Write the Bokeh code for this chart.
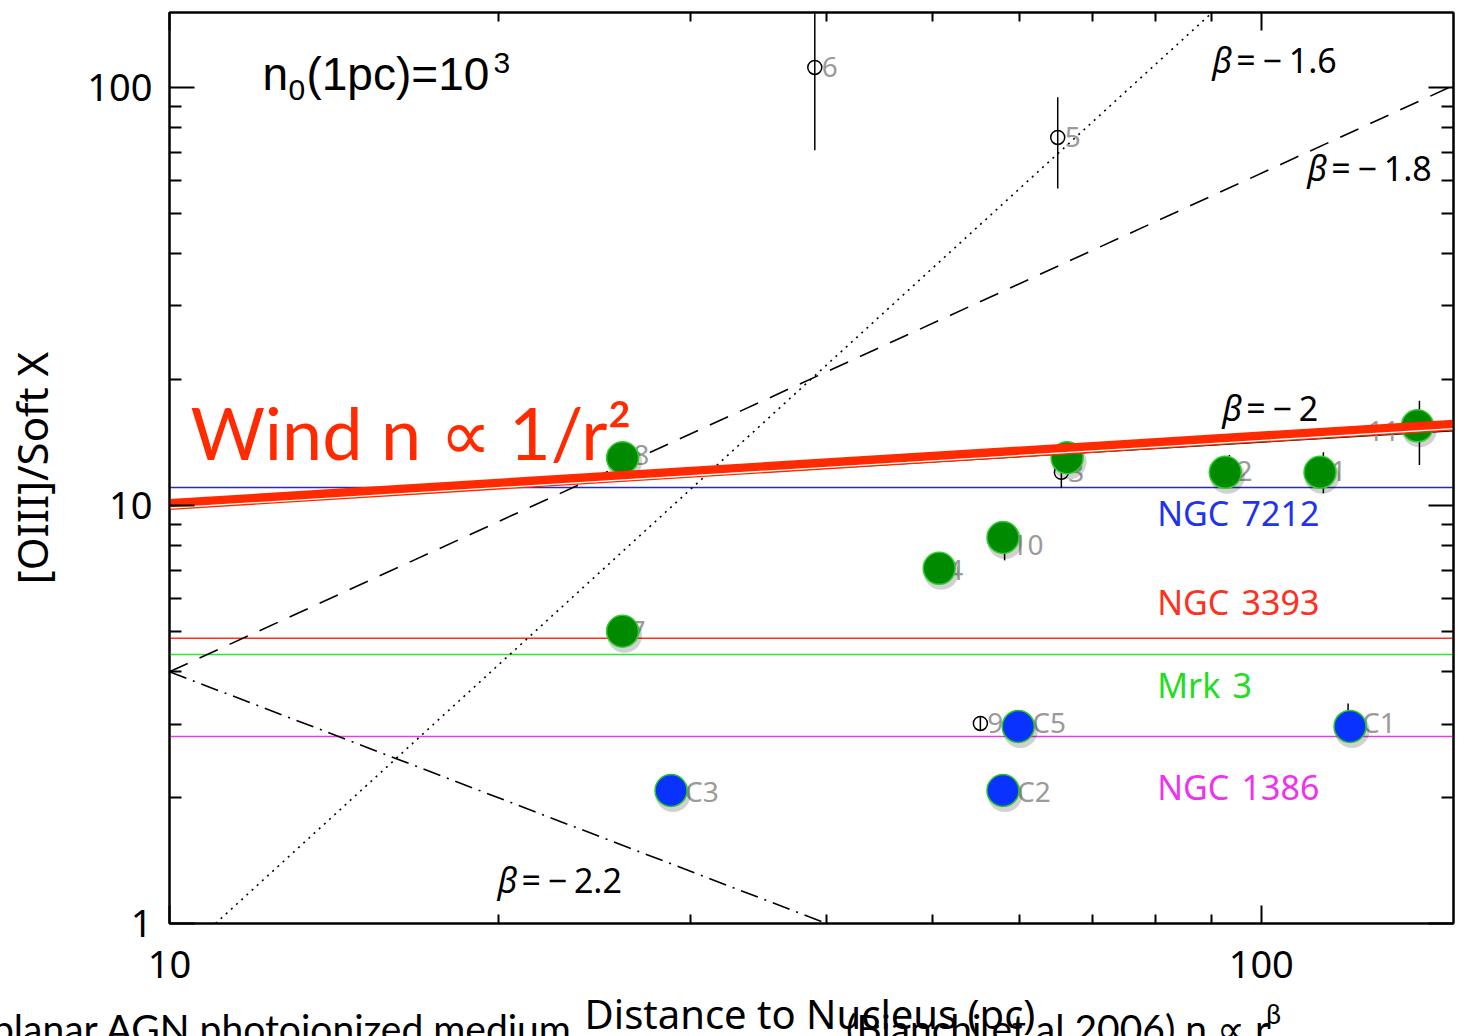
import math
from bokeh.plotting import figure
from bokeh.layouts import column
from bokeh.models import (LogAxis, FixedTicker, Label, ColumnDataSource, Range1d,
                          BasicTickFormatter, Div)
from bokeh.embed import file_html
from bokeh.resources import INLINE
from bokeh.core.properties import value

# ---------------- data ----------------
x_major = [10, 100]
x_minor = [20, 30, 40, 50, 60, 70, 80, 90]
y_major = [1, 10, 100]
y_minor = [2, 3, 4, 5, 6, 7, 8, 9, 20, 30, 40, 50, 60, 70, 80, 90]

point_labels = ["6", "5", "8", "3", "2", "1", "11", "10", "4", "7", "9"]
point_dist = [39.0, 65.1, 26.2, 65.6, 93.5, 114.0, 139.6, 58.2, 50.8, 26.0, 55.3]
point_ratio = [111.6, 75.9, 13.2, 12.0, 12.1, 12.1, 15.1, 8.02, 6.99, 5.02, 3.01]
point_err_lo = [70.7, 57.3, 12.6, 11.0, 11.1, 10.7, 12.5, 7.39, 6.7, 4.85, 2.90]
point_err_hi = [200.0, 94.7, 13.8, 12.8, 13.2, 13.4, 17.8, 8.72, 7.3, 5.2, 3.13]

cloud_labels = ["C5", "C1", "C3", "C2"]
cloud_dist = [59.9, 120.1, 28.8, 58.0]
cloud_ratio = [3.03, 3.03, 2.08, 2.08]
cloud_err_lo = [2.93, 2.93, 2.0, 1.96]
cloud_err_hi = [3.13, 3.36, 2.16, 2.16]

green_dist = [26.0, 66.4, 92.7, 113.2, 139.0, 58.0, 50.7, 26.0]
green_ratio = [13.0, 13.0, 12.0, 12.0, 15.5, 8.38, 7.07, 5.00]
blue_dist = [59.9, 120.6, 28.8, 58.0]
blue_ratio = [2.96, 2.96, 2.08, 2.08]

galaxy_names = ["NGC 7212", "NGC 3393", "Mrk 3", "NGC 1386"]
galaxy_ratio = [11.04, 4.81, 4.40, 2.80]

beta_values = ["−1.6", "−1.8", "−2", "−2.2"]
beta_dist = [[11.02, 90.0], [10.0, 150.0], [10.0, 150.0], [10.0, 40.0]]
beta_ratio = [[1.0, 150.3], [4.0, 101.0], [9.9, 15.1], [4.0, 1.0]]

wind_dist = [10.0, 150.0]
wind_ratio = [10.05, 15.56]

# ---------------- styles ----------------
galaxy_line_colors = ["#2a2ab8", "#ff3020", "#2ee82e", "#e040e0"]
galaxy_text_colors = ["#2233ee", "#ff3020", "#22dd22", "#ee33ee"]
beta_dashes = ["2 5", "20 13", "solid", "18 7 2 7"]
RED = "#ff2a00"
GRAY = "#9a9a9a"
TICKFONT = "Noto Sans"
SANS = "Liberation Sans"
HS = "\u200a"

# frame geometry: x=10 at px 169, 1092 px/decade ; y=1 at px 923, 418 px/decade
def X(px):
    return 10 ** (1 + (px - 169) / 1092.0)

def Y(py):
    return 10 ** ((923 - py) / 418.0)

p = figure(width=1482, height=996, x_axis_type="log", y_axis_type="log",
           x_range=Range1d(10, 150), y_range=Range1d(1, 151),
           output_backend="svg", toolbar_location=None,
           min_border_left=169, min_border_right=29, min_border_top=12,
           min_border_bottom=73)
p.grid.visible = False
p.outline_line_color = "black"
p.outline_line_width = 2
p.background_fill_color = "white"
p.border_fill_color = "white"

def style_axis(ax, major_in, minor_in, show_labels):
    ax.major_tick_in = major_in
    ax.minor_tick_in = minor_in
    ax.major_tick_out = 0
    ax.minor_tick_out = 0
    ax.major_tick_line_width = 2
    ax.minor_tick_line_width = 2
    ax.major_tick_line_color = "black"
    ax.minor_tick_line_color = "black"
    ax.axis_line_width = 2
    ax.axis_line_color = "black"
    if show_labels:
        ax.major_label_text_font = TICKFONT
        ax.major_label_text_font_size = "38px"
        ax.major_label_text_color = "black"
    else:
        ax.major_label_text_font_size = "2px"
        ax.major_label_text_alpha = 0
        ax.major_label_standoff = 0

xb = p.xaxis[0]
xb.ticker = FixedTicker(ticks=x_major, minor_ticks=x_minor)
xb.formatter = BasicTickFormatter()
style_axis(xb, 18, 9, True)
xb.major_label_standoff = 27

yl = p.yaxis[0]
yl.ticker = FixedTicker(ticks=y_major, minor_ticks=y_minor)
yl.formatter = BasicTickFormatter()
style_axis(yl, 25, 12, True)
yl.major_label_standoff = 17
yl.axis_label = "[OIII]/Soft X"
yl.axis_label_text_font = TICKFONT
yl.axis_label_text_font_size = "42px"
yl.axis_label_text_font_style = "normal"
yl.axis_label_text_color = "black"
yl.axis_label_standoff = 24

xt = LogAxis(ticker=FixedTicker(ticks=x_major, minor_ticks=x_minor),
             formatter=BasicTickFormatter())
style_axis(xt, 18, 9, False)
p.add_layout(xt, "above")
yr = LogAxis(ticker=FixedTicker(ticks=y_major, minor_ticks=y_minor),
             formatter=BasicTickFormatter())
style_axis(yr, 25, 12, False)
p.add_layout(yr, "right")

# galaxy reference levels
for r, c in zip(galaxy_ratio, galaxy_line_colors):
    p.line([10, 150], [r, r], line_color=c, line_width=1.5)

# beta model lines
for xs, ys, d in zip(beta_dist, beta_ratio, beta_dashes):
    p.line(xs, ys, line_color="black", line_width=1.6, line_dash=d)

# error bars
p.segment(x0=point_dist, y0=point_err_lo, x1=point_dist, y1=point_err_hi,
          line_color="black", line_width=1.5)
p.segment(x0=cloud_dist, y0=cloud_err_lo, x1=cloud_dist, y1=cloud_err_hi,
          line_color="black", line_width=1.5)

# open circles
p.scatter(point_dist, point_ratio, marker="circle", size=14, fill_color=None,
          line_color="black", line_width=1.5)

# point labels
all_lab = point_labels + cloud_labels
all_x = point_dist + cloud_dist
all_y = point_ratio + cloud_ratio
offs, aligns = [], []
for lab in all_lab:
    if lab == "11":
        offs.append(-20); aligns.append("right")
    elif lab.startswith("C"):
        offs.append(14); aligns.append("left")
    else:
        offs.append(7); aligns.append("left")
lab_src = ColumnDataSource(dict(x=all_x, y=all_y, t=all_lab, xo=offs, al=aligns))
p.text("x", "y", text="t", x_offset="xo", text_align="al", source=lab_src,
       text_baseline="middle", text_font=value(TICKFONT), text_font_size="28px",
       text_color=GRAY)

# highlighted markers (overlay) with soft shadow
sh_dx = 10 ** (2 / 1092.0)
sh_dy = 10 ** (-4 / 418.0)
p.scatter([v * sh_dx for v in green_dist + blue_dist],
          [v * sh_dy for v in green_ratio + blue_ratio],
          marker="circle", size=35, fill_color="black", fill_alpha=0.18, line_color=None)
p.scatter(green_dist, green_ratio, marker="circle", size=32, fill_color="#008a00",
          line_color="#33cc33", line_width=1.5)
p.scatter(blue_dist, blue_ratio, marker="circle", size=32, fill_color="#0a32ff",
          line_color="#22c822", line_width=1.5)

# wind line overlay
p.line(wind_dist, wind_ratio, line_color=RED, line_width=11)
p.line(wind_dist, [v * 10 ** (-3.5 / 418.0) for v in wind_ratio], line_color="white",
       line_width=1.3)

# galaxy names
gal_pos = [513, 602, 685, 787]
for name, c, py in zip(galaxy_names, galaxy_text_colors, gal_pos):
    p.add_layout(Label(x=X(1157), y=Y(py), text=name.replace(" ", " " + HS), text_color=c,
                       text_font=TICKFONT, text_font_size="34px", text_baseline="middle"))

# beta labels
beta_pos = [(1212, 60), (1307, 168), (1222, 408), (497, 880)]
for val, (px, py) in zip(beta_values, beta_pos):
    p.add_layout(Label(x=X(px), y=Y(py), text="β", text_font=TICKFONT,
                       text_font_style="italic", text_font_size="34px",
                       text_baseline="middle", text_color="black"))
    p.add_layout(Label(x=X(px), y=Y(py), x_offset=24,
                       text="=" + HS + HS + val[0] + HS + HS + val[1:], text_font=TICKFONT,
                       text_font_size="34px", text_baseline="middle", text_color="black"))

# n0(1pc)=10^3
p.add_layout(Label(x=X(262), y=Y(74), text="n", text_font=SANS, text_font_size="46px",
                   text_baseline="middle", text_color="black"))
p.add_layout(Label(x=X(288), y=Y(90), text="0", text_font=SANS, text_font_size="30px",
                   text_baseline="middle", text_color="black"))
p.add_layout(Label(x=X(306), y=Y(74), text="(1pc)=10", text_font=SANS, text_font_size="46px",
                   text_baseline="middle", text_color="black"))
p.add_layout(Label(x=X(493), y=Y(63), text="3", text_font=SANS, text_font_size="30px",
                   text_baseline="middle", text_color="black"))

# wind annotation
p.add_layout(Label(x=X(190), y=Y(432), text="Wind n ∝ 1/r²", text_font="Lato",
                   text_font_size="72px", text_color=RED, text_baseline="middle"))

# ---------- strip below the plot: x-axis title and the slide caption cut at the edge ----------
span = "position:absolute;white-space:nowrap;line-height:1;color:black;"
html = (
    '<div style="position:relative;width:1482px;height:40px;overflow:hidden;background:white;">'
    f'<span style="{span}left:-8px;top:13px;font-family:Lato;font-size:39px;">'
    'planar AGN photoionized medium</span>'
    f'<span style="{span}left:846px;top:13px;font-family:Lato;font-size:39px;">'
    '(Bianchi et al 2006) n ∝ r</span>'
    f'<span style="{span}left:1266px;top:4px;font-family:Lato;font-size:27px;">β</span>'
    f'<span style="{span}left:310px;width:1000px;text-align:center;top:-2px;'
    'font-family:\'Noto Sans\';font-size:40px;">Distance to Nucleus (pc)</span>'
    '</div>'
)
strip = Div(text=html, width=1482, height=40, styles={"overflow": "hidden", "margin": "0"})

layout = column(p, strip, spacing=0)
open("out.html", "w").write(file_html(layout, INLINE))
